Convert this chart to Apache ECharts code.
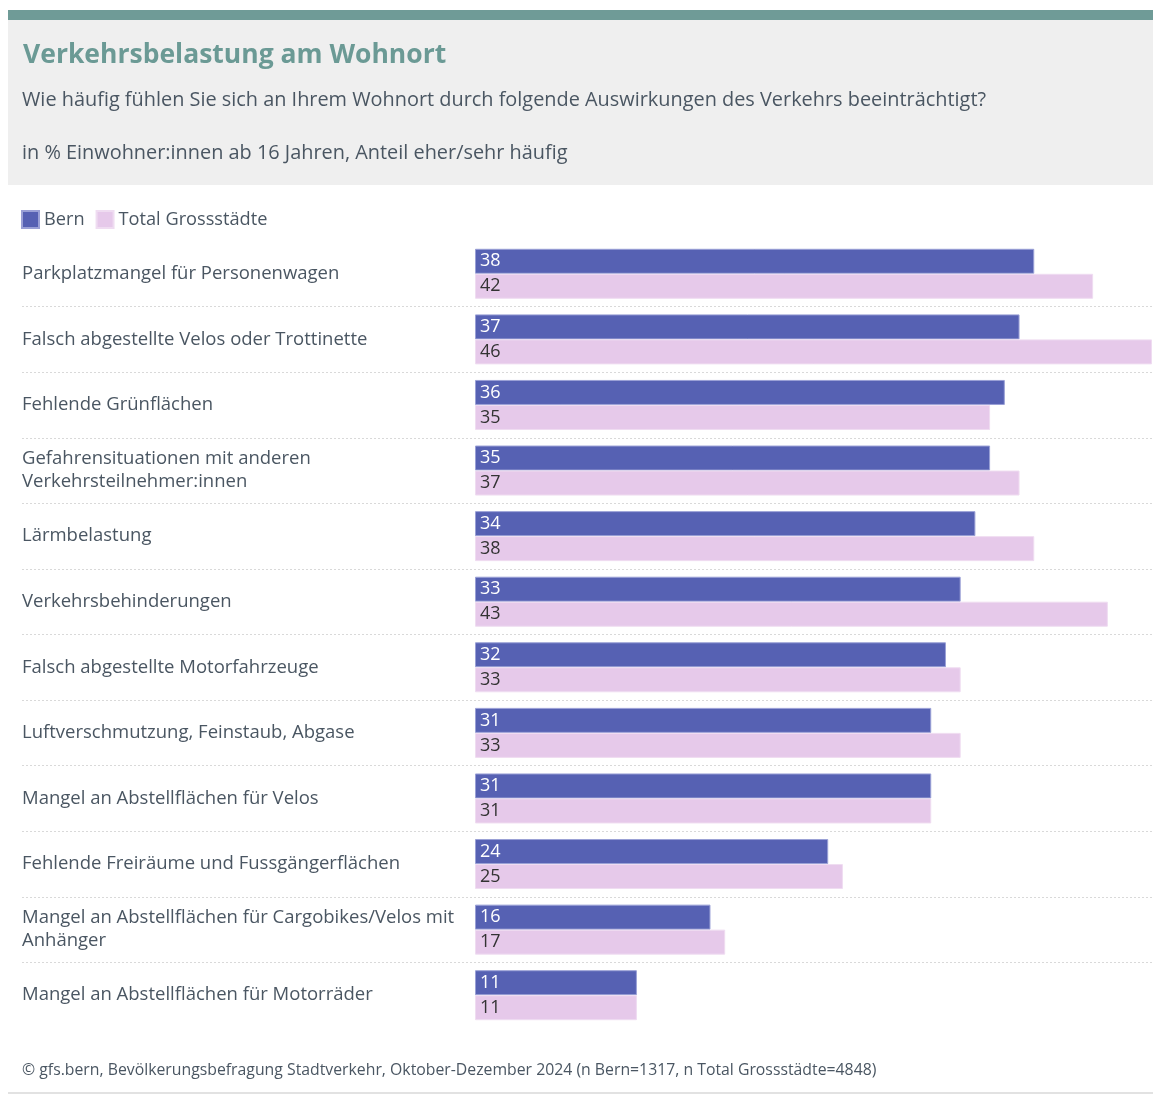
<!DOCTYPE html>
<html>
<head>
<meta charset="utf-8">
<script src="https://cdn.jsdelivr.net/npm/echarts@6/dist/echarts.min.js"></script>
<style>
html,body{margin:0;padding:0;background:#fff;}
#chart{width:1153px;height:1095px;}
</style>
</head>
<body>
<div id="chart"></div>
<script>
const categories = [
  'Parkplatzmangel für Personenwagen',
  'Falsch abgestellte Velos oder Trottinette',
  'Fehlende Grünflächen',
  'Gefahrensituationen mit anderen\nVerkehrsteilnehmer:innen',
  'Lärmbelastung',
  'Verkehrsbehinderungen',
  'Falsch abgestellte Motorfahrzeuge',
  'Luftverschmutzung, Feinstaub, Abgase',
  'Mangel an Abstellflächen für Velos',
  'Fehlende Freiräume und Fussgängerflächen',
  'Mangel an Abstellflächen für Cargobikes/Velos mit\nAnhänger',
  'Mangel an Abstellflächen für Motorräder'
];
const bern = [38, 37, 36, 35, 34, 33, 32, 31, 31, 24, 16, 11];
const total = [42, 46, 35, 37, 38, 43, 33, 33, 31, 25, 17, 11];
const seriesNames = ['Bern', 'Total Grossstädte'];

const FONT = '"Open Sans", "Noto Sans", sans-serif';
const TEXT = '#4a5662';
const chart = echarts.init(document.getElementById('chart'));

// separators only between rows: hide first and last boundary line
const sepColors = ['rgba(0,0,0,0)'];
for (let i = 1; i < categories.length; i++) sepColors.push('#d9d9d9');
sepColors.push('rgba(0,0,0,0)');

chart.setOption({
  backgroundColor: '#ffffff',
  animation: false,
  textStyle: { fontFamily: FONT },
  graphic: [
    { type: 'rect', shape: { x: 8, y: 10, width: 1145, height: 10 }, style: { fill: '#6f9b97' }, silent: true },
    { type: 'rect', shape: { x: 8, y: 20, width: 1145, height: 165 }, style: { fill: '#efefef' }, silent: true, z: -1 },
    { type: 'rect', shape: { x: 8, y: 1092, width: 1145, height: 2 }, style: { fill: '#e2e2e2' }, silent: true }
  ],
  title: [
    { text: 'Verkehrsbelastung am Wohnort', left: 18, top: 37, padding: [5, 5, 5, 5],
      textStyle: { fontFamily: FONT, fontSize: 26.5, fontWeight: 'bold', color: '#6b9a95' } },
    { text: 'Wie häufig fühlen Sie sich an Ihrem Wohnort durch folgende Auswirkungen des Verkehrs beeinträchtigt?', left: 17, top: 85,
      textStyle: { fontFamily: FONT, fontSize: 19.9, fontWeight: 'normal', color: TEXT } },
    { text: 'in % Einwohner:innen ab 16 Jahren, Anteil eher/sehr häufig', left: 17, top: 138,
      textStyle: { fontFamily: FONT, fontSize: 19.9, fontWeight: 'normal', color: TEXT } },
    { text: '© gfs.bern, Bevölkerungsbefragung Stadtverkehr, Oktober-Dezember 2024 (n Bern=1317, n Total Grossstädte=4848)', left: 17, top: 1057,
      textStyle: { fontFamily: FONT, fontSize: 15.8, fontWeight: 'normal', color: TEXT } }
  ],
  legend: {
    left: 21, top: 210, padding: 0, itemWidth: 17, itemHeight: 17, itemGap: 11,
    icon: 'rect', selectedMode: false,
    textStyle: { fontFamily: FONT, fontSize: 18.2, color: TEXT },
    data: seriesNames
  },
  grid: [
    { left: 22, right: 1, top: 241, bottom: 67 },
    { left: 475, right: 1, top: 241, bottom: 67 }
  ],
  xAxis: [
    { gridIndex: 0, type: 'value', min: 0, max: 1, show: false },
    { gridIndex: 1, type: 'value', min: 0, max: 46, show: false }
  ],
  yAxis: [
    { gridIndex: 0, type: 'category', inverse: true, data: categories,
      axisLine: { show: false }, axisTick: { show: false },
      axisLabel: { inside: true, margin: 0, fontFamily: FONT, fontSize: 18.5, color: TEXT, lineHeight: 23 },
      splitLine: { show: true, lineStyle: { type: [2, 2], width: 1, color: sepColors } } },
    { gridIndex: 1, type: 'category', inverse: true, data: categories, show: false }
  ],
  series: [
    { name: seriesNames[0], type: 'bar', xAxisIndex: 1, yAxisIndex: 1, data: bern,
      barWidth: 25, barGap: '0%',
      itemStyle: { color: '#5661b3', borderColor: '#9aa0d6', borderWidth: 1 },
      label: { show: true, position: 'insideLeft', distance: 5, color: '#ffffff', fontFamily: FONT, fontSize: 18 } },
    { name: seriesNames[1], type: 'bar', xAxisIndex: 1, yAxisIndex: 1, data: total,
      barWidth: 25, barGap: '0%',
      itemStyle: { color: '#e6c9ea', borderColor: '#efdcf1', borderWidth: 1 },
      label: { show: true, position: 'insideLeft', distance: 5, color: '#333333', fontFamily: FONT, fontSize: 18 } }
  ]
});
</script>
</body>
</html>
